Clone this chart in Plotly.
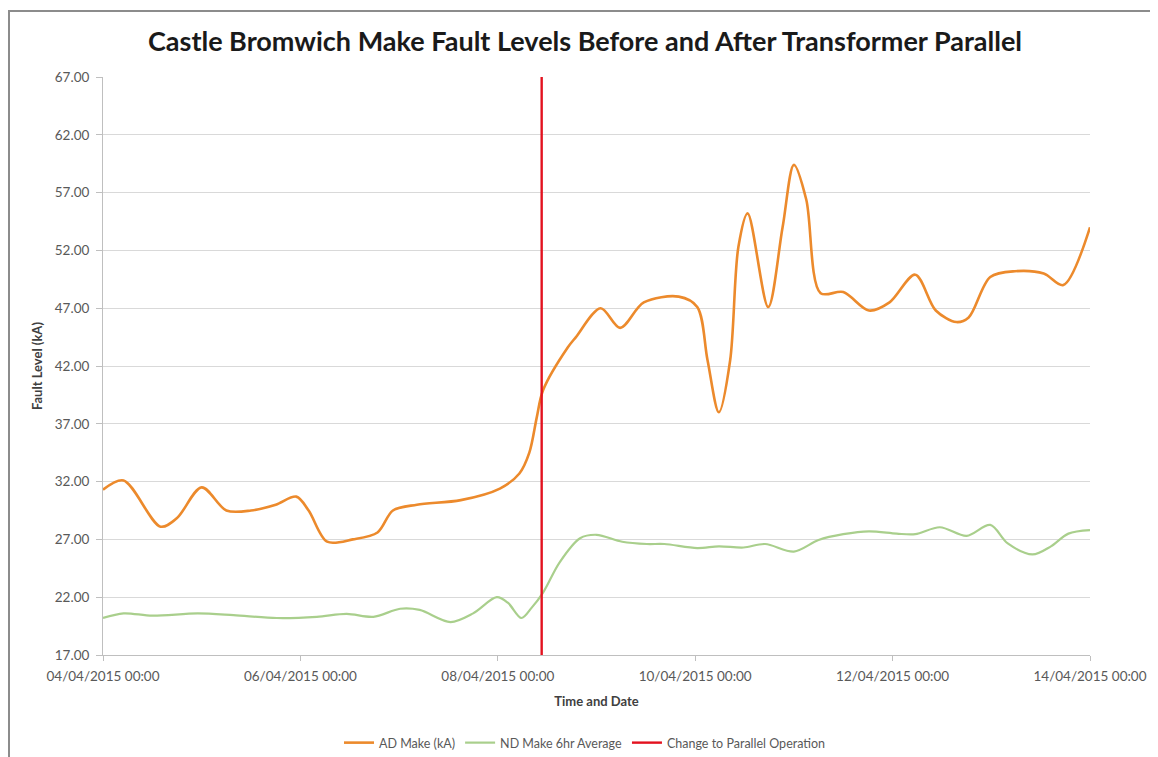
import plotly.graph_objects as go

# ---- data ----
ad_times = [
    "2015-04-04 00:00", "2015-04-04 05:00", "2015-04-04 14:00", "2015-04-04 18:00",
    "2015-04-05 00:00", "2015-04-05 06:00", "2015-04-05 12:00", "2015-04-05 18:00",
    "2015-04-05 23:00", "2015-04-06 02:00", "2015-04-06 06:30", "2015-04-06 12:45",
    "2015-04-06 18:45", "2015-04-06 22:30", "2015-04-07 04:20", "2015-04-07 15:00",
    "2015-04-08 00:30", "2015-04-08 05:15", "2015-04-08 07:40", "2015-04-08 09:30",
    "2015-04-08 11:00", "2015-04-08 17:00", "2015-04-08 19:00", "2015-04-09 01:00",
    "2015-04-09 05:45", "2015-04-09 11:30", "2015-04-09 20:00", "2015-04-10 00:30",
    "2015-04-10 03:00", "2015-04-10 05:45", "2015-04-10 08:30", "2015-04-10 10:30",
    "2015-04-10 12:45", "2015-04-10 17:45", "2015-04-10 21:15", "2015-04-11 00:00",
    "2015-04-11 03:00", "2015-04-11 06:30", "2015-04-11 12:00", "2015-04-11 18:15",
    "2015-04-11 23:15", "2015-04-12 05:30", "2015-04-12 10:30", "2015-04-12 15:30",
    "2015-04-12 18:30", "2015-04-12 23:45", "2015-04-13 05:45", "2015-04-13 12:45",
    "2015-04-13 17:30", "2015-04-14 00:00",
]
ad_values = [
    31.3, 32.1, 28.1, 28.85,
    31.5, 29.5, 29.5, 30.0,
    30.7, 29.5, 26.8, 27.0,
    27.6, 29.5, 30.0, 30.4,
    31.4, 32.7, 34.5, 37.6,
    39.9, 43.6, 44.5, 47.0,
    45.3, 47.5, 48.0, 47.1,
    42.5, 38.0, 42.5, 52.3,
    55.2, 47.1, 54.0, 59.4,
    56.4, 48.3, 48.4, 46.8,
    47.5, 49.9, 46.8, 45.8,
    46.2, 49.7, 50.2, 50.0,
    49.0, 54.0,
]

nd_times = [
    "2015-04-04 00:00", "2015-04-04 05:00", "2015-04-04 12:00", "2015-04-04 23:00",
    "2015-04-05 07:45", "2015-04-05 18:15", "2015-04-06 04:00", "2015-04-06 11:15",
    "2015-04-06 17:45", "2015-04-07 00:15", "2015-04-07 05:00", "2015-04-07 12:30",
    "2015-04-07 18:00", "2015-04-07 23:45", "2015-04-08 02:30", "2015-04-08 05:45",
    "2015-04-08 08:15", "2015-04-08 11:00", "2015-04-08 15:00", "2015-04-08 20:00",
    "2015-04-09 00:00", "2015-04-09 06:15", "2015-04-09 12:15", "2015-04-09 16:30",
    "2015-04-10 00:30", "2015-04-10 05:45", "2015-04-10 11:45", "2015-04-10 17:00",
    "2015-04-11 00:00", "2015-04-11 06:00", "2015-04-11 12:00", "2015-04-11 18:15",
    "2015-04-12 01:00", "2015-04-12 05:30", "2015-04-12 11:30", "2015-04-12 18:00",
    "2015-04-12 23:45", "2015-04-13 04:00", "2015-04-13 10:00", "2015-04-13 14:30",
    "2015-04-13 18:45", "2015-04-14 00:00",
]
nd_values = [
    20.2, 20.6, 20.4, 20.6,
    20.45, 20.2, 20.3, 20.55,
    20.3, 21.0, 20.9, 19.85,
    20.6, 22.0, 21.5, 20.2,
    21.1, 22.4, 25.0, 27.1,
    27.4, 26.8, 26.6, 26.6,
    26.25, 26.4, 26.3, 26.6,
    25.95, 26.95, 27.45, 27.7,
    27.5, 27.45, 28.05, 27.3,
    28.25, 26.65, 25.7, 26.4,
    27.5, 27.8,
]

change_times = ["2015-04-08 10:40", "2015-04-08 10:40"]
change_values = [17.0, 67.0]

series_names = ["AD Make (kA)", "ND Make 6hr Average", "Change to Parallel Operation"]
title_text = "Castle Bromwich Make Fault Levels Before and After Transformer Parallel"
x_title = "Time and Date"
y_title = "Fault Level (kA)"
x_range = ["2015-04-04 00:00", "2015-04-14 00:00"]
y_range = [17, 67]

# ---- figure ----
FONT = "Lato, 'Open Sans', sans-serif"
fig = go.Figure()
fig.add_trace(go.Scatter(
    x=ad_times, y=ad_values, name=series_names[0], mode="lines",
    line=dict(color="#EC8A2C", width=2.6, shape="spline", smoothing=0.9),
))
fig.add_trace(go.Scatter(
    x=nd_times, y=nd_values, name=series_names[1], mode="lines",
    line=dict(color="#A9CF8C", width=2.2, shape="spline", smoothing=0.9),
))
fig.add_trace(go.Scatter(
    x=change_times, y=change_values, name=series_names[2], mode="lines",
    line=dict(color="#E3121F", width=2.4),
))

# page body has an 8px margin, so the figure is drawn 8px right/down
OFF = 8
W, H = 1158 - OFF, 757 - OFF
L, T = 103 - OFF, 77 - OFF
R = W - (1090 - OFF)
B = H - (655 - OFF)
pw, ph = W - L - R, H - T - B

fig.update_layout(
    width=W, height=H,
    margin=dict(l=L, r=R, t=T, b=B, autoexpand=False),
    paper_bgcolor="white", plot_bgcolor="white",
    font=dict(family=FONT, color="#595959", size=13),
    title=dict(text=f"<b>{title_text}</b>", x=(585 - OFF) / W, xanchor="center",
               y=1 - (42 - OFF) / H, yanchor="middle",
               font=dict(family=FONT, size=27, color="#1a1a1a")),
    showlegend=True,
    legend=dict(orientation="h", x=(585 - 103) / pw, xanchor="center",
                y=-(743 - 655) / ph, yanchor="middle",
                font=dict(size=12.5, color="#595959"),
                itemwidth=30, tracegroupgap=0),
    xaxis=dict(
        type="date", range=x_range, dtick=2 * 86400000, tick0="2015-04-04",
        tickformat="%d/%m/%Y %H:%M", showgrid=False, showline=True,
        linecolor="#BFBFBF", linewidth=1, ticks="outside", ticklen=5,
        tickcolor="#BFBFBF", tickfont=dict(size=13.5, color="#595959"),
        ticklabelstandoff=4,
        title=dict(text=f"<b>{x_title}</b>", standoff=13,
                   font=dict(size=13, color="#404040")),
        zeroline=False,
    ),
    yaxis=dict(
        range=y_range, dtick=5, tick0=17, tickformat=".2f",
        showgrid=True, gridcolor="#D9D9D9", gridwidth=1,
        showline=True, linecolor="#BFBFBF", linewidth=1,
        ticks="outside", ticklen=6, tickcolor="#BFBFBF",
        tickfont=dict(size=13.5, color="#595959"),
        ticklabelstandoff=4,
        title=dict(text=f"<b>{y_title}</b>", standoff=9,
                   font=dict(size=13, color="#404040")),
        zeroline=False,
    ),
    shapes=[dict(
        type="rect", xref="paper", yref="paper",
        x0=(9 - 103) / pw, x1=3.0,
        y0=-3.0, y1=(655 - 11) / ph,
        line=dict(color="#8C8C8C", width=2), fillcolor="rgba(0,0,0,0)", layer="below",
    )],
)

fig.write_html("out.html")
